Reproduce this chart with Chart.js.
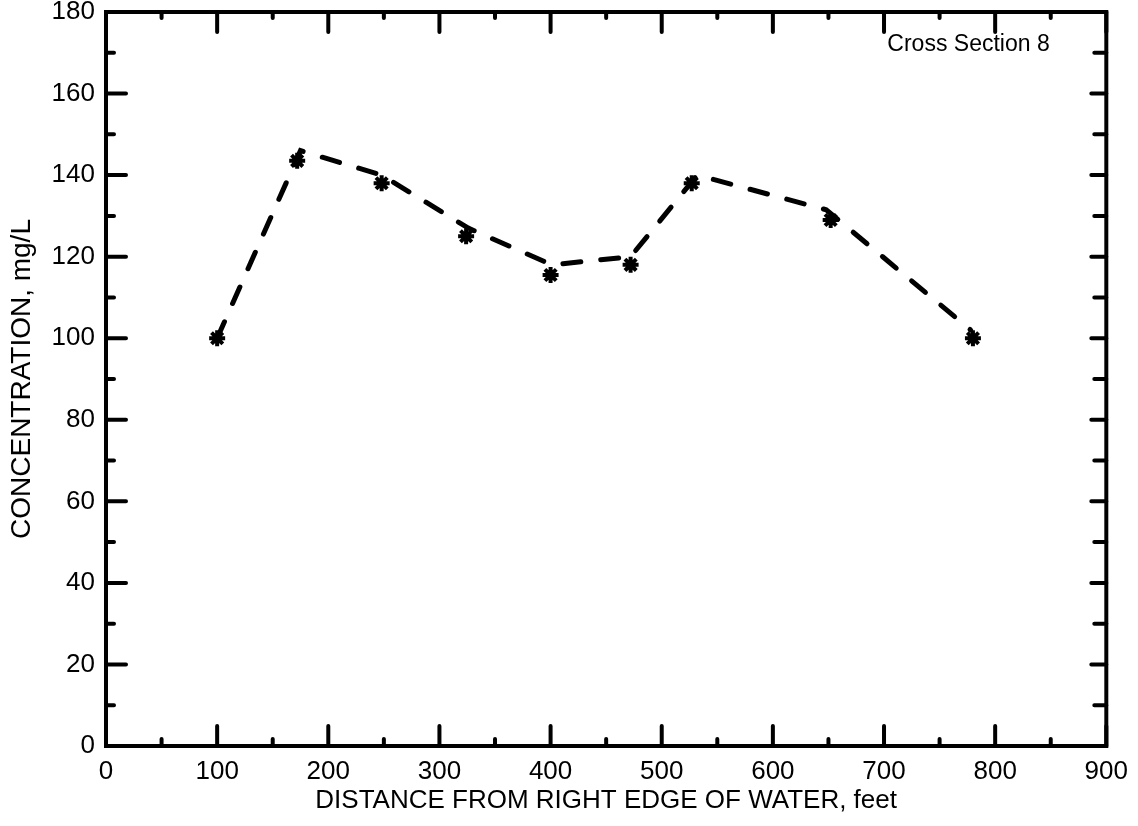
<!DOCTYPE html>
<html>
<head>
<meta charset="utf-8">
<title>Cross Section 8</title>
<script src="https://cdn.jsdelivr.net/npm/chart.js@4.4.1/dist/chart.umd.min.js"></script>
<style>
  html, body { margin: 0; padding: 0; background: #fff; }
  #wrap { width: 1138px; height: 826px; }
</style>
</head>
<body>
<div id="wrap"><canvas id="chart" width="1138" height="826"></canvas></div>
<script>
// measured samples (asterisks)
const sampleDistance = [100, 172, 248, 324, 400, 472, 527, 652, 780];
const sampleConc = [100, 143.5, 138, 125, 115.5, 118, 138, 129, 100];

// hand-drawn dashed trend line
const trendDistance = [100, 175, 248, 326, 401, 472, 532, 648, 778];
const trendConc = [100, 146, 140, 127, 118, 120, 140, 131.5, 102];

const xTicks = [0, 100, 200, 300, 400, 500, 600, 700, 800, 900];
const yTicks = [0, 20, 40, 60, 80, 100, 120, 140, 160, 180];

const FONT = "'Liberation Sans', Arial, Helvetica, sans-serif";

const toXY = (xs, ys) => xs.map((x, i) => ({ x: x, y: ys[i] }));

// frame with inward tick marks on all four sides, plus the section label
const frame = {
  id: 'frame',
  afterDraw(c) {
    const ctx = c.ctx;
    const a = c.chartArea;
    const xs = c.scales.x, ys = c.scales.y;
    ctx.save();
    ctx.strokeStyle = '#000';
    ctx.lineCap = 'round';
    ctx.lineWidth = 4;
    ctx.strokeRect(a.left, a.top, a.right - a.left, a.bottom - a.top);

    for (let v = 0; v <= 900; v += 50) {
      const px = xs.getPixelForValue(v);
      const major = v % 100 === 0;
      ctx.beginPath();
      ctx.moveTo(px, a.bottom);
      ctx.lineTo(px, a.bottom - (major ? 20 : 7));
      ctx.moveTo(px, a.top);
      ctx.lineTo(px, a.top + (major ? 20 : 6));
      ctx.stroke();
    }
    for (let v = 0; v <= 180; v += 10) {
      const py = ys.getPixelForValue(v);
      const major = v % 20 === 0;
      ctx.beginPath();
      ctx.moveTo(a.left, py);
      ctx.lineTo(a.left + (major ? 20 : 8), py);
      ctx.moveTo(a.right, py);
      ctx.lineTo(a.right - (major ? 15 : 12), py);
      ctx.stroke();
    }

    ctx.fillStyle = '#000';
    ctx.font = '23px ' + FONT;
    ctx.textAlign = 'left';
    ctx.textBaseline = 'middle';
    ctx.fillText('Cross Section 8', xs.getPixelForValue(703), ys.getPixelForValue(172));
    ctx.restore();
  }
};

new Chart(document.getElementById('chart'), {
  type: 'scatter',
  data: {
    datasets: [
      {
        label: 'trend',
        data: toXY(trendDistance, trendConc),
        showLine: true,
        borderColor: '#000',
        borderWidth: 5,
        borderDash: [18, 20],
        borderCapStyle: 'round',
        pointRadius: 0,
        tension: 0
      },
      {
        label: 'samples',
        data: toXY(sampleDistance, sampleConc),
        showLine: false,
        pointStyle: 'star',
        pointRadius: 8,
        borderColor: '#000',
        backgroundColor: '#000',
        pointBorderWidth: 4
      }
    ]
  },
  options: {
    responsive: false,
    animation: false,
    layout: { padding: { top: 0, right: 31, left: 0, bottom: 0 } },
    plugins: {
      legend: { display: false },
      tooltip: { enabled: false }
    },
    scales: {
      x: {
        type: 'linear',
        min: 0,
        max: 900,
        afterBuildTicks: s => { s.ticks = xTicks.map(v => ({ value: v })); },
        afterFit: s => { s.height = 80; },
        grid: { display: false, drawTicks: false },
        border: { display: false },
        ticks: { color: '#000', padding: 10, font: { family: FONT, size: 26 } },
        title: {
          display: true,
          text: 'DISTANCE FROM RIGHT EDGE OF WATER, feet',
          color: '#000',
          padding: { top: 0, bottom: 10 },
          font: { family: FONT, size: 26 }
        }
      },
      y: {
        type: 'linear',
        min: 0,
        max: 180,
        afterBuildTicks: s => { s.ticks = yTicks.map(v => ({ value: v })); },
        afterFit: s => { s.width = 106; s.paddingTop = 12; s.paddingBottom = 0; },
        grid: { display: false, drawTicks: false },
        border: { display: false },
        ticks: { color: '#000', padding: 11, font: { family: FONT, size: 26 } },
        title: {
          display: true,
          text: 'CONCENTRATION, mg/L',
          color: '#000',
          padding: { top: 5, bottom: 0 },
          font: { family: FONT, size: 28 }
        }
      }
    }
  },
  plugins: [frame]
});
</script>
</body>
</html>
